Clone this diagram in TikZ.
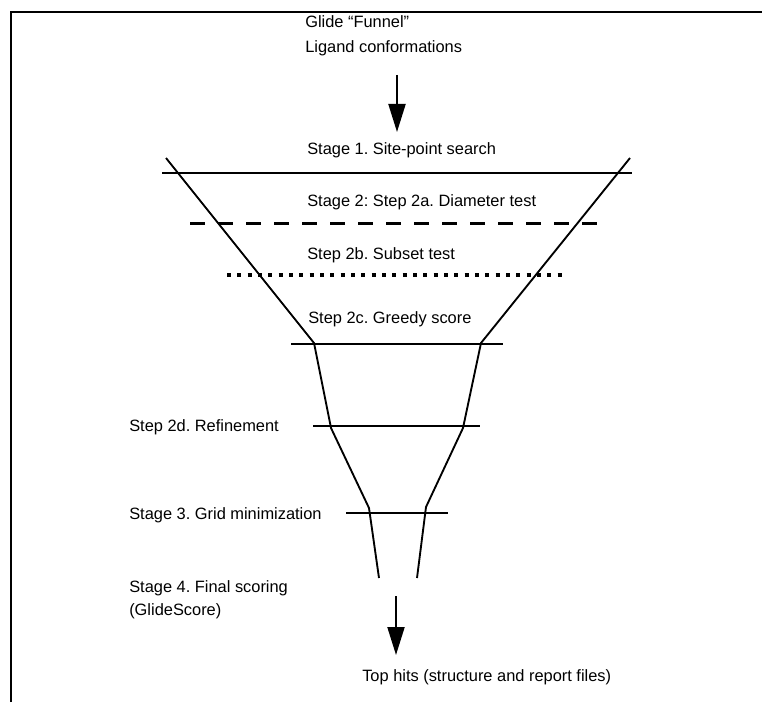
\documentclass[tikz,border=0pt]{standalone}
\usepackage{fontspec}
\setmainfont{Liberation Sans}
\usetikzlibrary{arrows.meta}
\frenchspacing
\begin{document}
\begin{tikzpicture}[x=0.75pt,y=-0.75pt,
  lbl/.style={anchor=base west,inner sep=0pt,font=\fontsize{12.3}{14}\selectfont},
  stageline/.style={line width=1.5pt},
  funnel/.style={line width=1.4pt,line join=miter},
  flow/.style={line width=1.5pt,-{Triangle[length=21pt,width=12.75pt]}}]
\useasboundingbox (0,0) rectangle (762,702);
% frame
\coordinate (fb) at (11,702);
\coordinate (fc) at (11,12);
\coordinate (fr) at (762,12);
\draw[line width=1.8pt] (fb) -- (fc) -- (fr);
% titles
\node[lbl] (title) at (305,28) {Glide “Funnel”};
\node[lbl] (lig) at (305,53) {Ligand conformations};
\coordinate (a1s) at (397,75);
\coordinate (a1e) at (397,132);
\draw[flow] (a1s) -- (a1e);
% stage labels
\node[lbl] (s1) at (307,155) {Stage 1. Site-point search};
\node[lbl] (s2a) at (307,206.7) {Stage 2: Step 2a. Diameter test};
\node[lbl] (s2b) at (307,259) {Step 2b. Subset test};
\node[lbl] (s2c) at (308,323.3) {Step 2c. Greedy score};
\node[lbl] (s2d) at (129,431.7) {Step 2d. Refinement};
\node[lbl] (s3) at (129,519) {Stage 3. Grid minimization};
\node[lbl] (s4) at (129,592.3) {Stage 4. Final scoring};
\node[lbl] (s4b) at (129,615.7) {(GlideScore)};
\node[lbl] (top) at (362,681.7) {Top hits (structure and report files)};
% stage lines
\coordinate (l1a) at (162,173); \coordinate (l1b) at (632,173);
\coordinate (l2a) at (190,223.3); \coordinate (l2b) at (603,223.3);
\coordinate (l3a) at (227,275); \coordinate (l3b) at (567,275);
\coordinate (l4a) at (291,344); \coordinate (l4b) at (503,344);
\coordinate (l5a) at (313,426); \coordinate (l5b) at (480,426);
\coordinate (l6a) at (346,513); \coordinate (l6b) at (448,513);
\draw[stageline] (l1a) -- (l1b);
\draw[line width=2.2pt,dash pattern=on 11.25pt off 9.75pt] (l2a) -- (l2b);
\draw[line width=3pt,dash pattern=on 3pt off 4.75pt] (l3a) -- (l3b);
\draw[stageline] (l4a) -- (l4b);
\draw[stageline] (l5a) -- (l5b);
\draw[stageline] (l6a) -- (l6b);
% funnel walls
\coordinate (L0) at (166,158); \coordinate (L1) at (314,343);
\coordinate (L2) at (331,428); \coordinate (L3) at (369,508);
\coordinate (L4) at (379,578);
\coordinate (R0) at (630,158); \coordinate (R1) at (481,343);
\coordinate (R2) at (463,428); \coordinate (R3) at (426,507);
\coordinate (R4) at (417,578);
\draw[funnel] (L0) -- (L1) -- (L2) -- (L3) -- (L4);
\draw[funnel] (R0) -- (R1) -- (R2) -- (R3) -- (R4);
% output arrow
\coordinate (a2s) at (396,596);
\coordinate (a2e) at (396,655);
\draw[flow] (a2s) -- (a2e);
\end{tikzpicture}
\end{document}
